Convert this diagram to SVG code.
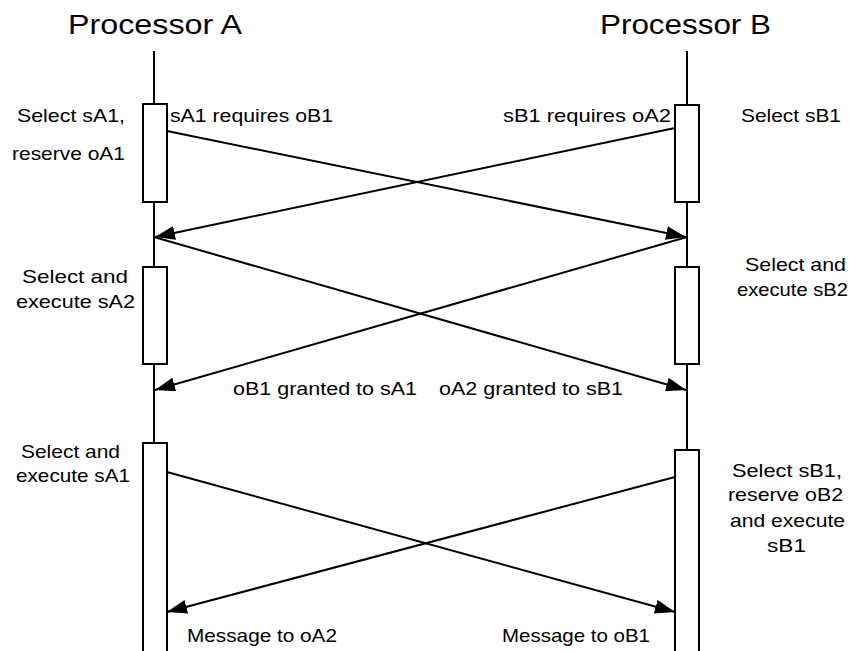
<svg xmlns="http://www.w3.org/2000/svg" width="857" height="651" viewBox="0 0 857 651">
<style>
.t{font-family:"Liberation Sans",Arial,sans-serif;font-size:18.5px;fill:#000}
.h{font-family:"Liberation Sans",Arial,sans-serif;font-size:27px;fill:#000}
.life{stroke:#000;stroke-width:2;fill:none}
.box{stroke:#000;stroke-width:2;fill:#fff}
.msg{stroke:#000;stroke-width:2;fill:none;marker-end:url(#ah)}
</style>
<defs>
<marker id="ah" viewBox="0 0 20 14" refX="20" refY="7" markerWidth="20" markerHeight="14" markerUnits="userSpaceOnUse" orient="auto">
<path d="M0,0 L20,7 L0,14 z" fill="#000"/>
</marker>
</defs>
<rect width="857" height="651" fill="#fff"/>
<g id="procA">
<text class="h" x="68" y="34" textLength="174" lengthAdjust="spacingAndGlyphs">Processor A</text>
<line class="life" x1="154" y1="51" x2="154" y2="651"/>
</g>
<g id="procB">
<text class="h" x="600" y="34" textLength="171" lengthAdjust="spacingAndGlyphs">Processor B</text>
<line class="life" x1="687" y1="51" x2="687" y2="651"/>
</g>
<g id="A1">
<rect class="box" x="143" y="104" width="24" height="98"/>
<text class="t" x="17" y="122" textLength="108" lengthAdjust="spacingAndGlyphs">Select sA1,</text>
<text class="t" x="12" y="160" textLength="113" lengthAdjust="spacingAndGlyphs">reserve oA1</text>
</g>
<g id="B1">
<rect class="box" x="675" y="105" width="24" height="97"/>
<text class="t" x="741" y="122" textLength="100" lengthAdjust="spacingAndGlyphs">Select sB1</text>
</g>
<g id="A2">
<rect class="box" x="143" y="267" width="24" height="97"/>
<text class="t" x="22" y="283" textLength="106" lengthAdjust="spacingAndGlyphs">Select  and</text>
<text class="t" x="16" y="308" textLength="119" lengthAdjust="spacingAndGlyphs">execute sA2</text>
</g>
<g id="B2">
<rect class="box" x="675" y="267" width="24" height="97"/>
<text class="t" x="745" y="271" textLength="101" lengthAdjust="spacingAndGlyphs">Select and</text>
<text class="t" x="737" y="296" textLength="111" lengthAdjust="spacingAndGlyphs">execute sB2</text>
</g>
<g id="A3">
<rect class="box" x="143" y="443" width="24" height="212"/>
<text class="t" x="21" y="458" textLength="99" lengthAdjust="spacingAndGlyphs">Select and</text>
<text class="t" x="16" y="482" textLength="114" lengthAdjust="spacingAndGlyphs">execute sA1</text>
</g>
<g id="B3">
<rect class="box" x="675" y="450" width="24" height="205"/>
<text class="t" x="732" y="477" textLength="110" lengthAdjust="spacingAndGlyphs">Select sB1,</text>
<text class="t" x="728" y="501" textLength="115" lengthAdjust="spacingAndGlyphs">reserve oB2</text>
<text class="t" x="730" y="527" textLength="115" lengthAdjust="spacingAndGlyphs">and execute</text>
<text class="t" x="767" y="552" textLength="39" lengthAdjust="spacingAndGlyphs">sB1</text>
</g>
<g id="connectors">
<line class="msg" x1="167" y1="131" x2="686" y2="237"/>
<line class="msg" x1="675" y1="128" x2="155" y2="237"/>
<line class="msg" x1="154" y1="237" x2="686" y2="390"/>
<line class="msg" x1="687" y1="237" x2="155" y2="390"/>
<line class="msg" x1="167" y1="472" x2="675" y2="612"/>
<line class="msg" x1="675" y1="477" x2="167" y2="612"/>
<text class="t" x="170" y="122" textLength="163" lengthAdjust="spacingAndGlyphs">sA1 requires oB1</text>
<text class="t" x="503" y="122" textLength="168" lengthAdjust="spacingAndGlyphs">sB1 requires oA2</text>
<text class="t" x="233" y="395" textLength="184" lengthAdjust="spacingAndGlyphs">oB1 granted to sA1</text>
<text class="t" x="439" y="395" textLength="184" lengthAdjust="spacingAndGlyphs">oA2 granted to sB1</text>
<text class="t" x="187" y="642" textLength="150" lengthAdjust="spacingAndGlyphs">Message to oA2</text>
<text class="t" x="502" y="642" textLength="148" lengthAdjust="spacingAndGlyphs">Message to oB1</text>
</g>
</svg>
